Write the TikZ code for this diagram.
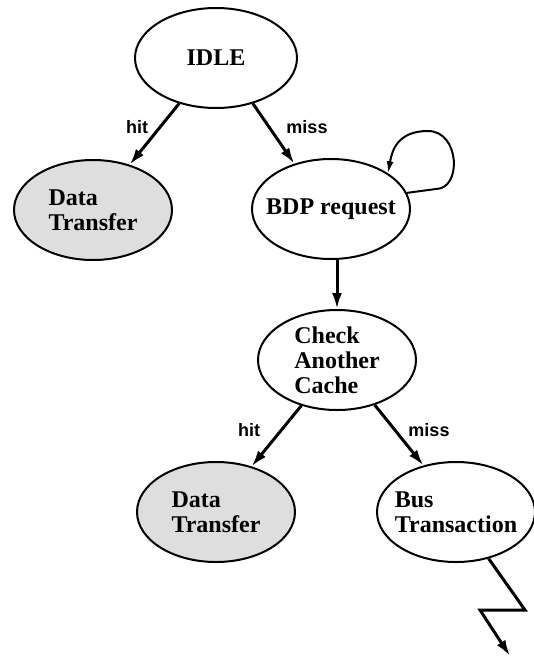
\documentclass[tikz,border=0pt]{standalone}
\usepackage{fontspec}
\setmainfont{Liberation Serif}
\setsansfont{Liberation Sans}
\usetikzlibrary{shapes.geometric,arrows.meta}
\begin{document}
\begin{tikzpicture}[x=0.5pt,y=-0.5pt,
    stnode/.style={ellipse,draw,line width=1pt,inner xsep=-5pt,inner ysep=-3pt,
        minimum width=#1,minimum height=50pt,align=left,
        font=\fontsize{12}{12.5}\selectfont\bfseries},
    stnode/.default=79pt,
    donenode/.style={stnode,fill=black!13},
    trans/.style={-{Latex[length=8pt,width=5pt]},line width=1.5pt},
    lbl/.style={font=\sffamily\bfseries\fontsize{9}{9}\selectfont}]
    \useasboundingbox (0,0) rectangle (534,660);

    % states
    \node[stnode=81pt] (idle) at (216,58) {IDLE};
    \node[donenode] (dta) at (93,210) {Data\\Transfer};
    \node[stnode] (bdp) at (331,209) {BDP request};
    \node[stnode] (check) at (337,360) {Check\\Another\\Cache};
    \node[donenode] (dtb) at (216,512) {Data\\Transfer};
    \node[stnode] (bus) at (456,512) {Bus\\Transaction};
    \coordinate (away) at (510,656);

    % transitions
    \draw[trans] (idle.231) -- (dta.51);
    \draw[trans] (idle.309) -- (bdp.129);
    \node[lbl] (hita) at (137,127) {hit};
    \node[lbl] (missa) at (307,127) {miss};

    % retry loop
    \draw[-{Latex[length=6pt,width=3.5pt]},line width=1pt] (bdp.12) -- (436,189)
        .. controls (462,189) and (460,131) .. (428,131)
        .. controls (398,131) and (392,150) .. (bdp.32);

    \draw[trans] (check.north |- bdp.south) -- (check.north);
    \draw[trans] (check.232) -- (dtb.52);
    \draw[trans] (check.310) -- (bus.125);
    \node[lbl] (hitb) at (249,430) {hit};
    \node[lbl] (missb) at (429,430) {miss};

    % off to the bus
    \draw[trans] (bus.305) -- (525,610) -- (480,610) -- (away);
\end{tikzpicture}
\end{document}
